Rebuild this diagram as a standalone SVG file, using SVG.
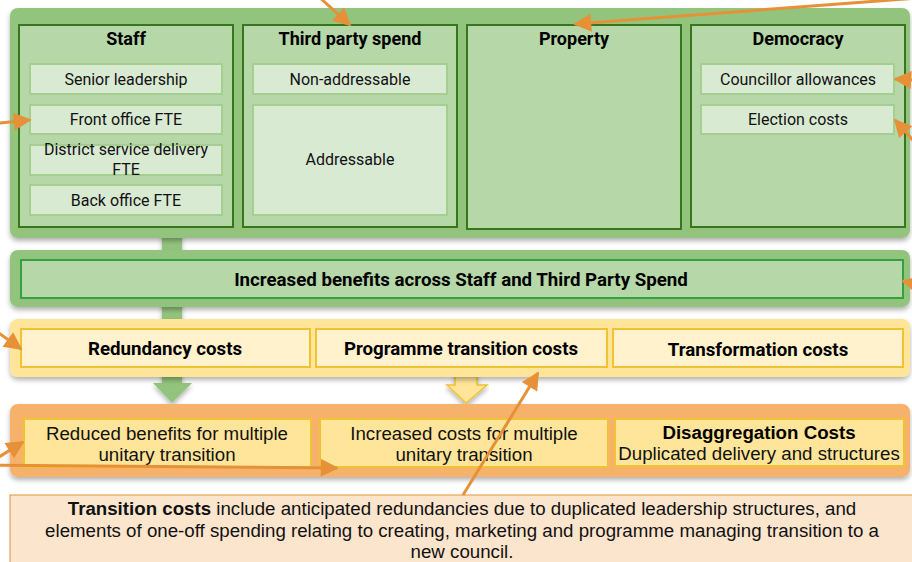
<svg xmlns="http://www.w3.org/2000/svg" width="912" height="562" viewBox="0 0 912 562">
<defs>
<style>
.rb{font-family:Roboto,"Liberation Sans",sans-serif;font-weight:bold;font-size:18px;fill:#000;text-anchor:middle}
.rb2{font-family:Roboto,"Liberation Sans",sans-serif;font-weight:bold;font-size:18.7px;fill:#000;text-anchor:middle}
.rr{font-family:Roboto,"Liberation Sans",sans-serif;font-size:16px;fill:#111;text-anchor:middle}
.ar{font-family:"Liberation Sans",Arial,sans-serif;font-size:18.7px;fill:#111;text-anchor:middle}
.arb{font-family:"Liberation Sans",Arial,sans-serif;font-size:18.7px;font-weight:bold;fill:#000;text-anchor:middle}
.note{font-family:"Liberation Sans",Arial,sans-serif;font-size:18.7px;fill:#111;text-anchor:middle}
.col{fill:#b6d7a8;stroke:#38761d;stroke-width:2}
.sub{fill:#d9ead3;stroke:#a4cf8f;stroke-width:2}
.yin{fill:#fff2cc;stroke:#f1c232;stroke-width:2}
.oin{fill:#ffe599;stroke:#f1c232;stroke-width:2}
.con{stroke:#e69138;stroke-width:3;fill:none;marker-end:url(#ah)}
</style>
<filter id="sh" x="-5%" y="-20%" width="110%" height="150%">
<feDropShadow dx="0" dy="3" stdDeviation="2.5" flood-color="#000" flood-opacity="0.3"/>
</filter>
<marker id="ah" viewBox="0 0 10 10" refX="9" refY="5" markerUnits="userSpaceOnUse" markerWidth="24" markerHeight="18" orient="auto">
<path d="M0,0 L10,5 L0,10 z" fill="#e69138"/>
</marker>
</defs>
<rect width="912" height="562" fill="#fff"/>

<g id="flow-arrows">
<polygon points="162,232 182,232 182,383 192,383 172,403 153,383 162,383" fill="#93c47d" filter="url(#sh)"/>
<polygon points="455,372 477,372 477,385 487,385 466,403 447,385 455,385" fill="#ffe599" stroke="#f1c232" stroke-width="1.5" filter="url(#sh)"/>
</g>

<g id="cost-base">
<rect x="10" y="8" width="900" height="230" rx="8" fill="#93c47d" filter="url(#sh)"/>
<g id="staff">
<rect class="col" x="19" y="25" width="214" height="202"/>
<text class="rb" x="126" y="45">Staff</text>
<rect class="sub" x="30" y="64" width="192" height="30"/>
<text class="rr" x="126" y="85">Senior leadership</text>
<rect class="sub" x="30" y="105" width="192" height="29"/>
<text class="rr" x="126" y="125">Front office FTE</text>
<rect class="sub" x="30" y="145" width="192" height="30"/>
<text class="rr" x="126" y="155">District service delivery</text>
<text class="rr" x="126" y="175">FTE</text>
<rect class="sub" x="30" y="185" width="192" height="30"/>
<text class="rr" x="126" y="206">Back office FTE</text>
</g>
<g id="third-party">
<rect class="col" x="243" y="25" width="214" height="202"/>
<text class="rb" x="350" y="45">Third party spend</text>
<rect class="sub" x="253" y="64" width="194" height="30"/>
<text class="rr" x="350" y="85">Non-addressable</text>
<rect class="sub" x="253" y="105" width="194" height="110"/>
<text class="rr" x="350" y="165">Addressable</text>
</g>
<g id="property">
<rect class="col" x="467" y="25" width="214" height="204"/>
<text class="rb" x="574" y="45">Property</text>
</g>
<g id="democracy">
<rect class="col" x="691" y="25" width="214" height="202"/>
<text class="rb" x="798" y="45">Democracy</text>
<rect class="sub" x="701" y="64" width="193" height="30"/>
<text class="rr" x="798" y="85">Councillor allowances</text>
<rect class="sub" x="701" y="105" width="193" height="29"/>
<text class="rr" x="798" y="125">Election costs</text>
</g>
</g>

<g id="benefits">
<rect x="10" y="250" width="900" height="57" rx="8" fill="#93c47d" filter="url(#sh)"/>
<rect x="21" y="260" width="882" height="38" fill="#b6d7a8" stroke="#34a040" stroke-width="2"/>
<text class="rb2" x="461" y="286">Increased benefits across Staff and Third Party Spend</text>
</g>

<g id="transition-costs">
<rect x="10" y="319" width="900" height="58" rx="8" fill="#ffe599" filter="url(#sh)"/>
<g id="redundancy">
<rect class="yin" x="21" y="329" width="289" height="38"/>
<text class="rb2" x="165" y="355">Redundancy costs</text>
</g>
<g id="programme">
<rect class="yin" x="316" y="329" width="291" height="38"/>
<text class="rb2" x="461" y="355">Programme transition costs</text>
</g>
<g id="transformation">
<rect class="yin" x="613" y="329" width="290" height="38"/>
<text class="rb2" x="758" y="356">Transformation costs</text>
</g>
</g>

<g id="multiple-unitary">
<rect x="10" y="404" width="900" height="73" rx="8" fill="#f6b26b" filter="url(#sh)"/>
<g id="reduced">
<rect class="oin" x="24" y="419" width="287" height="48"/>
<text class="ar" x="167" y="440">Reduced benefits for multiple</text>
<text class="ar" x="167" y="461">unitary transition</text>
</g>
<g id="increased">
<rect class="oin" x="320" y="419" width="288" height="48"/>
<text class="ar" x="464" y="440">Increased costs for multiple</text>
<text class="ar" x="464" y="461">unitary transition</text>
</g>
<g id="disaggregation">
<rect class="oin" x="615" y="419" width="289" height="47"/>
<text class="arb" x="759" y="439">Disaggregation Costs</text>
<text class="ar" x="759" y="460">Duplicated delivery and structures</text>
</g>
</g>

<g id="note">
<rect x="10" y="495" width="910" height="80" fill="#fce5cd" stroke="#e69138" stroke-width="1"/>
<text class="note" x="462" y="515"><tspan font-weight="bold">Transition costs</tspan> include anticipated redundancies due to duplicated leadership structures, and</text>
<text class="note" x="462" y="537">elements of one-off spending relating to creating, marketing and programme managing transition to a</text>
<text class="note" x="462" y="558">new council.</text>
</g>

<g id="connectors">
<line class="con" x1="318" y1="-4" x2="350" y2="25"/>
<line class="con" x1="918" y1="-2" x2="575" y2="24"/>
<line class="con" x1="-30" y1="126" x2="30" y2="120"/>
<line class="con" x1="945" y1="82" x2="895" y2="79"/>
<line class="con" x1="935" y1="165" x2="895" y2="120"/>
<line class="con" x1="945" y1="292" x2="903" y2="281"/>
<line class="con" x1="-25" y1="316" x2="21" y2="349"/>
<line class="con" x1="-25" y1="472" x2="23" y2="442"/>
<line class="con" x1="-20" y1="465" x2="337" y2="468"/>
<line class="con" x1="463" y1="495" x2="538" y2="373"/>
</g>
</svg>
